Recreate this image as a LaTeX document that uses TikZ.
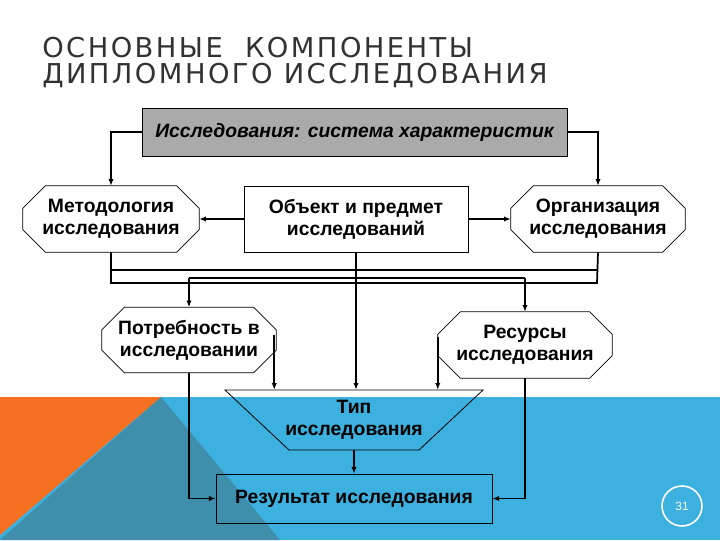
\documentclass[tikz,border=0pt]{standalone}
\usepackage{fontspec}
\setmainfont{Liberation Sans}
\newfontfamily\titlefont[LetterSpace=9]{DejaVu Sans}
\usetikzlibrary{arrows.meta}
\definecolor{bgblue}{RGB}{60,176,222}
\definecolor{bgorange}{RGB}{245,113,33}
\definecolor{bgdark}{RGB}{62,142,172}
\definecolor{boxgray}{RGB}{170,170,170}
\definecolor{titlegray}{RGB}{50,50,50}
\pgfdeclarelayer{bg}
\pgfdeclarelayer{mid}
\pgfsetlayers{bg,mid,main}
\newcommand\octo[1]{\begin{pgfonlayer}{mid}\filldraw[fill=white,line width=0.6pt] ([xshift=17pt]#1.north west) -- ([xshift=-17pt]#1.north east) -- ([yshift=-17pt]#1.north east) -- ([yshift=17pt]#1.south east) -- ([xshift=-17pt]#1.south east) -- ([xshift=17pt]#1.south west) -- ([yshift=17pt]#1.south west) -- ([yshift=-17pt]#1.north west) -- cycle;\end{pgfonlayer}}
\begin{document}
\begin{tikzpicture}[x=0.75pt,y=-0.75pt,
  lbl/.style={font=\bfseries\fontsize{14.5}{16.5}\selectfont,align=center,inner sep=0pt},
  oct/.style={lbl,rectangle},
  box/.style={lbl,draw,fill=white,line width=0.6pt,rectangle},
  ln/.style={line width=1.3pt},
  arr/.style={ln,-{Latex[length=5pt,width=4pt]}}]
\useasboundingbox (0,0) rectangle (720,540);
\begin{pgfonlayer}{bg}
\fill[white] (0,0) rectangle (720,540);
\fill[bgblue] (0,397) rectangle (720,540);
\fill[bgdark] (161,397) -- (280,540) -- (0,540) -- cycle;
\fill[bgorange] (0,397) -- (161,397) -- (0,535) -- cycle;
\end{pgfonlayer}
% title
\node[anchor=base west,inner sep=0pt,text=titlegray,font=\titlefont\fontsize{20.5}{22}\selectfont] (t1) at (42,57) {ОСНОВНЫЕ\ \ КОМПОНЕНТЫ};
\node[anchor=base west,inner sep=0pt,text=titlegray,font=\titlefont\fontsize{20.5}{22}\selectfont] (t2) at (42,83) {ДИПЛОМНОГО ИССЛЕДОВАНИЯ};
% nodes
\node[box,fill=boxgray,minimum width=318.75pt,minimum height=36pt,font=\bfseries\itshape\fontsize{14.5}{16.5}\selectfont] (top) at (354.5,132) {Исследования: система характеристик};
\node[oct,minimum width=132pt,minimum height=49.5pt] (lo) at (111,219) {Методология\\исследования};
\octo{lo}
\node[box,minimum width=168pt,minimum height=49.5pt] (mid) at (356,219) {Объект и предмет\\исследований};
\node[oct,minimum width=130.5pt,minimum height=49.5pt] (ro) at (598,219) {Организация\\исследования};
\octo{ro}
\node[oct,minimum width=130.5pt,minimum height=48.75pt] (pot) at (189,340) {Потребность в\\исследовании};
\octo{pot}
\node[oct,minimum width=130.5pt,minimum height=49.5pt] (res) at (525,345) {Ресурсы\\исследования};
\octo{res}
\draw[line width=0.6pt] (225,390) -- (483,390) -- (419,450) -- (289,450) -- cycle;
\node[lbl,minimum width=192.75pt,minimum height=45pt] (tr) at (354,420) {Тип\\исследования};
\node[lbl,draw,line width=0.6pt,minimum width=207pt,minimum height=36.75pt] (rst) at (354,498.5) {Результат исследования};
% connectors
\draw[arr] (top.west) -| (lo.north);
\draw[arr] (top.east) -| (ro.north);
\draw[arr] (mid.west) -- (lo.east);
\draw[arr] (mid.east) -- (ro.west);
\draw[ln] (lo.south) |- (597,283) -- (ro.south);
\coordinate (h1) at (111,270);
\coordinate (h2) at (597,270);
\draw[line width=0.8pt] (h1) -- (h2);
\coordinate (bl) at (189,278);
\coordinate (br) at (525,278);
\draw[ln] (bl) -- (br);
\draw[arr] (bl) -- (pot.north);
\draw[arr] (br) -- (res.north);
\draw[arr] (mid.south) -- (mid.south |- tr.north);
\draw[arr] ([xshift=-1.5pt,yshift=4pt]pot.east) -- ([xshift=-1.5pt]pot.east |- tr.north);
\draw[arr] ([yshift=6pt]res.west) -- (res.west |- tr.north);
\draw[arr] (tr.south) -- (rst.north);
\draw[arr] (pot.south) |- (rst.west);
\draw[arr] (res.south) |- (rst.east);
% page number
\node[circle,draw=white,line width=1.2pt,minimum size=30pt,text=white,font=\fontsize{9}{10}\selectfont] (pg) at (682,506) {31};
\end{tikzpicture}
\end{document}
